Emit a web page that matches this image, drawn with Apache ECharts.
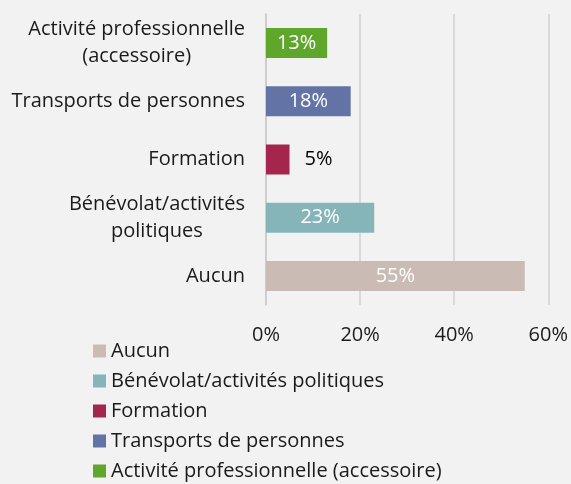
<!DOCTYPE html>
<html lang="fr">
<head>
    <meta charset="UTF-8">
    <title>Activités</title>
    <script src="https://cdn.jsdelivr.net/npm/echarts@6/dist/echarts.min.js"></script>
    <style>
        html, body { margin: 0; padding: 0; background: #f2f2f2; }
    </style>
</head>
<body>
<div id="main" style="width:571px;height:484px;"></div>
<script>
    // categories, bottom to top on the y axis
    var categories = ['Aucun', 'Bénévolat/activités politiques', 'Formation', 'Transports de personnes', 'Activité professionnelle (accessoire)'];
    var axisNames = ['Aucun', 'Bénévolat/activités\npolitiques', 'Formation', 'Transports de personnes', 'Activité professionnelle\n(accessoire)'];
    var values = [55, 23, 5, 18, 13];
    var colors = ['#cabcb5', '#85b5b9', '#a4264c', '#6473a5', '#5fa72b'];
    var xTicks = [0, 20, 40, 60];

    var font = 'Open Sans';
    var fs = 20;
    var myChart = echarts.init(document.getElementById('main'));

    var series = [];
    for (var i = 0; i < categories.length; i++) {
        var data = [];
        for (var j = 0; j < categories.length; j++) {
            data.push(j === i ? values[i] : '-');
        }
        var small = values[i] < 8;
        series.push({
            name: categories[i],
            type: 'bar',
            stack: 'all',
            barWidth: 30,
            itemStyle: { color: colors[i] },
            label: {
                show: true,
                position: small ? 'right' : 'inside',
                distance: 15,
                color: small ? '#000' : '#fff',
                fontFamily: font,
                fontSize: fs,
                formatter: '{c}%'
            },
            data: data
        });
    }

    var option = {
        backgroundColor: '#f2f2f2',
        animation: false,
        color: colors,
        grid: { left: 266, right: 21, top: 14, bottom: 179, containLabel: false },
        legend: {
            orient: 'vertical',
            left: 93,
            top: 341,
            padding: 0,
            height: 150,
            itemWidth: 13,
            itemHeight: 13,
            itemGap: 10,
            icon: 'rect',
            textStyle: { fontFamily: font, fontSize: fs, color: '#1a1a1a', lineHeight: 20 },
            data: categories
        },
        xAxis: {
            type: 'value',
            min: xTicks[0],
            max: xTicks[xTicks.length - 1],
            interval: 20,
            axisLine: { show: false },
            axisTick: { show: false },
            splitLine: { lineStyle: { color: '#d9d9d9', width: 2 } },
            axisLabel: {
                margin: 20,
                fontFamily: font,
                fontSize: fs,
                color: '#1a1a1a',
                formatter: '{value}%'
            }
        },
        yAxis: {
            type: 'category',
            data: categories,
            axisLine: { lineStyle: { color: '#c8c8c8', width: 1.5 } },
            axisTick: { length: 6, lineStyle: { color: '#c8c8c8', width: 1.5 } },
            axisLabel: {
                margin: 21,
                fontFamily: font,
                fontSize: fs,
                color: '#1a1a1a',
                lineHeight: 27,
                formatter: function (v, idx) {
                    return axisNames[idx].split('\n').map(function (s) {
                        return '{c|' + s + '}';
                    }).join('\n');
                },
                rich: {
                    c: { align: 'center', fontFamily: font, fontSize: fs, color: '#1a1a1a', lineHeight: 27 }
                }
            }
        },
        series: series
    };
    myChart.setOption(option);
</script>
</body>
</html>
